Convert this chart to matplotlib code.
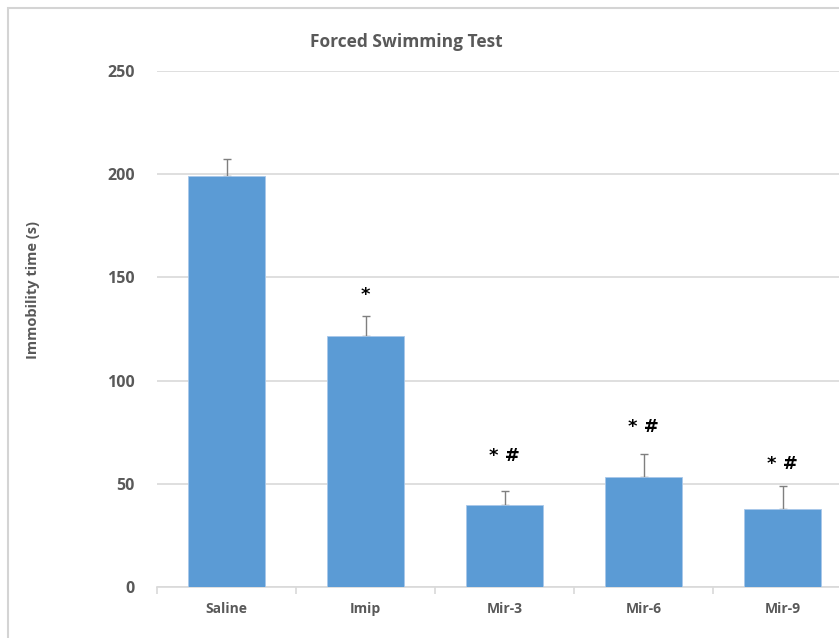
"""
Forced Swimming Test - immobility time bar chart.
"""

import numpy as np
import matplotlib.pyplot as plt
from matplotlib.patches import Rectangle

# ------------------------------------------------------------------
# Data
# ------------------------------------------------------------------

groups   = ["Saline", "Imip", "Mir-3", "Mir-6", "Mir-9"]
means    = [199.1, 121.8, 39.6, 53.4, 37.6]
errors   = [8.3, 9.5, 6.8, 11.0, 11.2]
marks    = ["", "*", "* #", "* #", "* #"]
mark_y   = [None, 141.5, 63.5, 77.7, 59.6]

yticks = [0, 50, 100, 150, 200, 250]

BAR_COLOR  = "#5B9BD5"
TEXT_COLOR = "#595959"
GRID_COLOR = "#D9D9D9"

plt.rcParams["font.family"] = ["Open Sans", "DejaVu Sans"]

# ------------------------------------------------------------------
# Plot
# ------------------------------------------------------------------

W, H = 839, 638
fig = plt.figure(figsize=(W / 100, H / 100), dpi=100)

# outer chart border (partly cropped in the original)
fig.patches.append(Rectangle((8 / W, -0.1), 1.2, 1 - 8 / H + 0.1,
                             transform=fig.transFigure, fill=False,
                             edgecolor="#D4D4D4", lw=1.5))

ax = fig.add_axes([157 / W, 1 - 587 / H, (852 - 157) / W, (587 - 71) / H])
x = np.arange(len(groups))

ax.bar(x, means, width=0.555, color=BAR_COLOR, edgecolor="#A9C8EA",
       lw=0.6, zorder=3)
ax.errorbar(x, means, yerr=[np.zeros(len(errors)), errors], fmt="none",
            ecolor="#7F7F7F", elinewidth=1, capsize=3, capthick=1, zorder=2)

for xi, m, yv in zip(x, marks, mark_y):
    if m:
        ax.text(xi, yv, m, ha="center", va="center", fontsize=13,
                fontweight="bold", color="black", family=["DejaVu Sans"])

ax.set_xlim(-0.5, len(groups) - 0.5)
ax.set_ylim(0, 250)
ax.set_yticks(yticks)
ax.set_xticks(x)
ax.set_xticklabels(groups)
ax.set_xticks(np.arange(len(groups) + 1) - 0.5, minor=True)

ax.yaxis.grid(True, color=GRID_COLOR, lw=1.2, zorder=0)
ax.set_axisbelow(True)
for s in ["top", "right", "left"]:
    ax.spines[s].set_visible(False)
ax.spines["bottom"].set_color(GRID_COLOR)
ax.spines["bottom"].set_linewidth(1.2)

ax.tick_params(axis="y", length=0, pad=16, labelsize=11.5, labelcolor=TEXT_COLOR)
ax.tick_params(axis="x", which="major", length=0, pad=11, labelsize=10,
               labelcolor=TEXT_COLOR)
ax.tick_params(axis="x", which="minor", length=5, color=GRID_COLOR, width=1.2)
for lbl in ax.get_xticklabels() + ax.get_yticklabels():
    lbl.set_fontweight("bold")

fig.text(33 / W, 1 - 290 / H, "Immobility time (s)", rotation=90,
         ha="center", va="center", fontsize=10.5, fontweight="bold",
         color=TEXT_COLOR)
fig.text(406 / W, 1 - 42 / H, "Forced Swimming Test", ha="center",
         va="center", fontsize=12.5, fontweight="bold", color=TEXT_COLOR)

plt.savefig("out.png", dpi=100)
